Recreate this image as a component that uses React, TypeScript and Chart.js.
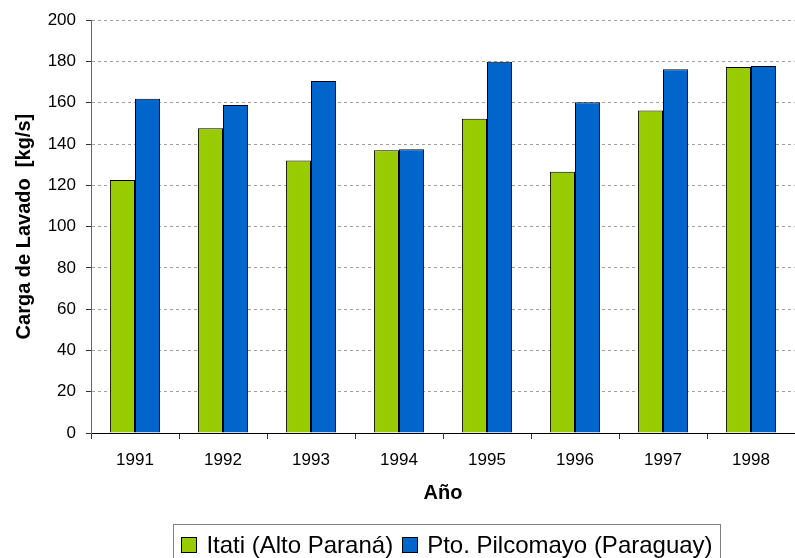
import React, { useEffect, useRef } from "react";
import { Chart, registerables } from "chart.js";

Chart.register(...registerables);

const years = ["1991", "1992", "1993", "1994", "1995", "1996", "1997", "1998"];
const itatiLabel = "Itati (Alto Paraná)";
const pilcoLabel = "Pto. Pilcomayo (Paraguay)";
const itati = [122.6, 147.7, 132.0, 137.0, 152.2, 126.6, 156.2, 177.3];
const pilcomayo = [162.0, 158.9, 170.5, 137.5, 179.9, 160.2, 176.2, 177.8];
const yTitle = "Carga de Lavado  [kg/s]";
const xTitle = "Año";

const GREEN = "#99CC00";
const BLUE = "#0066CC";
const FONT = '"Liberation Sans", Arial, sans-serif';

const boxedLegend = {
  id: "boxedLegend",
  afterDraw(chart: any) {
    const ctx = chart.ctx;
    const ds = chart.data.datasets;
    ctx.save();
    ctx.setLineDash([]);
    ctx.font = `24px ${FONT}`;
    const box = 16;
    const gap = 9;
    const widths = ds.map((d: any) => ctx.measureText(d.label).width);
    let total = 0;
    widths.forEach((w: number, i: number) => {
      total += box + gap + w + (i < widths.length - 1 ? gap : 0);
    });
    const center = 447;
    let x = center - total / 2;
    const left = x - 8;
    const right = x + total + 8;
    ctx.strokeStyle = "#808080";
    ctx.lineWidth = 1;
    ctx.strokeRect(Math.round(left) + 0.5, 524.5, Math.round(right - left), 60);
    ds.forEach((d: any, i: number) => {
      ctx.fillStyle = d.backgroundColor;
      ctx.fillRect(Math.round(x), 537, box, box);
      ctx.strokeStyle = "#000";
      ctx.strokeRect(Math.round(x) + 0.5, 537.5, box - 1, box - 1);
      x += box + gap;
      ctx.fillStyle = "#000";
      ctx.textBaseline = "alphabetic";
      ctx.textAlign = "left";
      ctx.fillText(d.label, x, 553);
      x += widths[i] + gap;
    });
    ctx.restore();
  },
};

export default function App() {
  const ref = useRef<HTMLCanvasElement>(null);
  useEffect(() => {
    if (!ref.current) return;
    const chart = new Chart(ref.current, {
      type: "bar",
      data: {
        labels: years,
        datasets: [
          {
            label: itatiLabel,
            data: itati,
            backgroundColor: GREEN,
            borderColor: "#000",
            borderWidth: 1,
            barPercentage: 1,
            categoryPercentage: 0.57,
          },
          {
            label: pilcoLabel,
            data: pilcomayo,
            backgroundColor: BLUE,
            borderColor: "#000",
            borderWidth: 1,
            barPercentage: 1,
            categoryPercentage: 0.57,
          },
        ],
      },
      options: {
        animation: false,
        responsive: true,
        maintainAspectRatio: false,
        layout: { padding: { top: 19, left: 0, right: 0, bottom: 0 } },
        plugins: {
          legend: { display: false },
          tooltip: { enabled: false },
        },
        scales: {
          x: {
            offset: true,
            grid: {
              display: true,
              drawOnChartArea: false,
              offset: true,
              tickLength: 6,
              tickColor: "#333",
            },
            border: { display: true, color: "#000", width: 1 },
            ticks: {
              color: "#000",
              font: { family: FONT, size: 17 },
              padding: 11,
              maxRotation: 0,
            },
            title: {
              display: true,
              text: xTitle,
              color: "#000",
              font: { family: FONT, size: 20, weight: "bold" },
              padding: { top: 0, bottom: 53 },
            },
            afterFit(scale: any) {
              scale.height = 125;
            },
          },
          y: {
            min: 0,
            max: 200,
            ticks: {
              stepSize: 20,
              color: "#000",
              font: { family: FONT, size: 17 },
              padding: 10,
            },
            grid: {
              color: "#a0a0a0",
              tickBorderDash: [],
              tickColor: "#333",
              tickLength: 5,
            } as any,
            border: { display: true, color: "#666", width: 1, dash: [3, 3] },
            title: {
              display: true,
              text: yTitle,
              color: "#000",
              font: { family: FONT, size: 20, weight: "bold" },
              padding: { top: 12, bottom: 0 },
            },
            afterFit(scale: any) {
              scale.width = 91;
            },
          },
        },
      },
      plugins: [boxedLegend],
    });
    return () => chart.destroy();
  }, []);
  return (
    <div style={{ position: "absolute", left: 0, top: 0, width: 795, height: 558, background: "#fff" }}>
      <canvas ref={ref} />
    </div>
  );
}
